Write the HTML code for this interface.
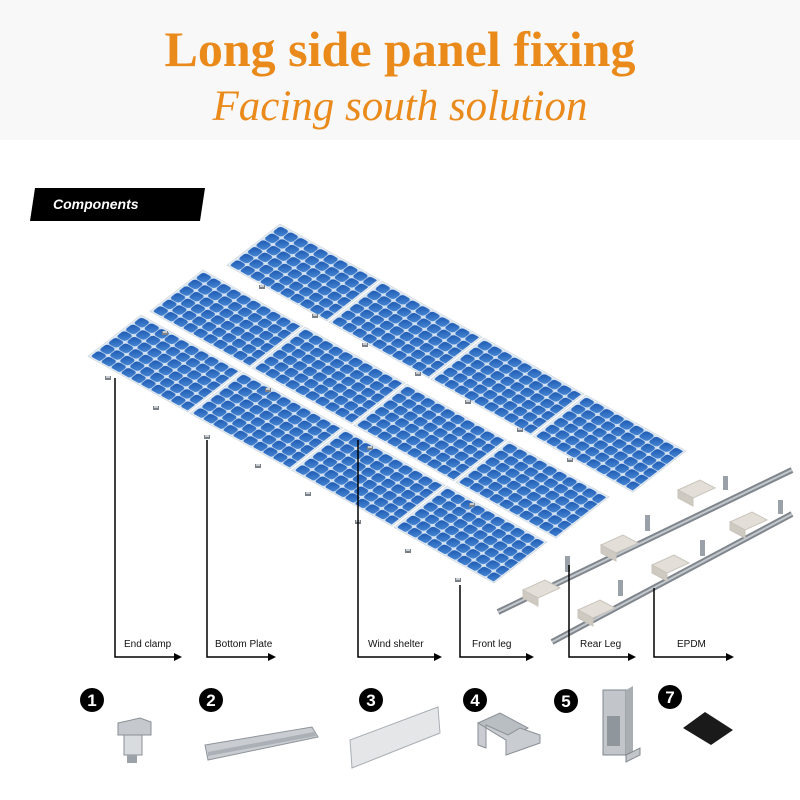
<!DOCTYPE html>
<html><head><meta charset="utf-8"><style>
html,body{margin:0;padding:0;background:#fff;}
svg{display:block}
</style></head><body>
<svg width="800" height="800" viewBox="0 0 800 800" xmlns="http://www.w3.org/2000/svg">
<defs>
<linearGradient id="cg" x1="0" y1="0" x2="1" y2="1"><stop offset="0" stop-color="#1a56b0"/><stop offset="1" stop-color="#4a8ad6"/></linearGradient>
<pattern id="cp" x="1.3" y="1.3" width="9.75" height="9.55" patternUnits="userSpaceOnUse">
<rect x="0.3" y="0.3" width="9.1" height="8.9" rx="2.8" fill="url(#cg)"/>
</pattern>
<g id="panel">
<rect x="0" y="0" width="98" height="59" fill="#e8eef5" stroke="#c9d3de" stroke-width="0.6"/>
<rect x="1.3" y="1.3" width="95.4" height="56.4" fill="#d3e2f2"/>
<rect x="1.3" y="1.3" width="95.4" height="56.4" fill="url(#cp)"/>
</g>
<g id="clip"><rect x="-3" y="-2" width="6" height="4" fill="#7a8087"/><rect x="-2" y="-2" width="4" height="2" fill="#c9ccd0"/></g>
</defs>

<rect x="0" y="0" width="800" height="140" fill="#f8f8f8"/>
<text x="400" y="66" text-anchor="middle" font-family="Liberation Serif, serif" font-weight="bold" font-size="50" fill="#ea8a1b">Long side panel fixing</text>
<text x="400" y="120" text-anchor="middle" font-family="Liberation Serif, serif" font-style="italic" font-size="43" fill="#ea8a1b">Facing south solution</text>

<polygon points="35,188 205,188 200,221 30,221" fill="#000"/>
<text x="53" y="209" font-family="Liberation Sans, sans-serif" font-weight="bold" font-style="italic" font-size="14" fill="#fff">Components</text>

<g>
<use href="#panel" transform="matrix(1.02,0.57,-0.9,0.7,280,224)"/>
<use href="#panel" transform="matrix(1.02,0.57,-0.9,0.7,382,281)"/>
<use href="#panel" transform="matrix(1.02,0.57,-0.9,0.7,484,338)"/>
<use href="#panel" transform="matrix(1.02,0.57,-0.9,0.7,586,395)"/>
<use href="#panel" transform="matrix(1.02,0.57,-0.9,0.7,203,270)"/>
<use href="#panel" transform="matrix(1.02,0.57,-0.9,0.7,305,327)"/>
<use href="#panel" transform="matrix(1.02,0.57,-0.9,0.7,407,384)"/>
<use href="#panel" transform="matrix(1.02,0.57,-0.9,0.7,509,441)"/>
<use href="#panel" transform="matrix(1.02,0.57,-0.9,0.7,141,315)"/>
<use href="#panel" transform="matrix(1.02,0.57,-0.9,0.7,243,372)"/>
<use href="#panel" transform="matrix(1.02,0.57,-0.9,0.7,345,429)"/>
<use href="#panel" transform="matrix(1.02,0.57,-0.9,0.7,447,486)"/>
</g>
<g>
<use href="#clip" x="108" y="378"/><use href="#clip" x="156" y="408"/><use href="#clip" x="207" y="437"/><use href="#clip" x="258" y="466"/><use href="#clip" x="308" y="494"/><use href="#clip" x="358" y="522"/><use href="#clip" x="408" y="551"/><use href="#clip" x="458" y="580"/>
<use href="#clip" x="165" y="333"/><use href="#clip" x="268" y="390"/><use href="#clip" x="370" y="448"/><use href="#clip" x="472" y="505"/>
<use href="#clip" x="262" y="287"/><use href="#clip" x="315" y="316"/><use href="#clip" x="365" y="345"/><use href="#clip" x="418" y="374"/><use href="#clip" x="468" y="402"/><use href="#clip" x="520" y="430"/><use href="#clip" x="570" y="460"/>
</g>

<g>
<line x1="498" y1="612" x2="792" y2="470" stroke="#80868d" stroke-width="6"/>
<line x1="498" y1="612" x2="792" y2="470" stroke="#c3c8cd" stroke-width="2"/>
<line x1="552" y1="642" x2="792" y2="514" stroke="#80868d" stroke-width="6"/>
<line x1="552" y1="642" x2="792" y2="514" stroke="#c3c8cd" stroke-width="2"/>
<g fill="#e3dfd8" stroke="#c9c4bb" stroke-width="1">
<polygon points="523,590 545,580 560,588 538,598"/>
<polygon points="523,590 538,598 538,606 523,598" fill="#cfcac1"/>
<polygon points="601,545 623,535 638,543 616,553"/><polygon points="601,545 616,553 616,561 601,553" fill="#cfcac1"/>
<polygon points="678,490 700,480 715,488 693,498"/><polygon points="678,490 693,498 693,506 678,498" fill="#cfcac1"/>
<polygon points="578,610 600,600 615,608 593,618"/><polygon points="578,610 593,618 593,626 578,618" fill="#cfcac1"/>
<polygon points="652,565 674,555 689,563 667,573"/><polygon points="652,565 667,573 667,581 652,573" fill="#cfcac1"/>
<polygon points="730,522 752,512 767,520 745,530"/><polygon points="730,522 745,530 745,538 730,530" fill="#cfcac1"/>
</g>
<g fill="#9aa1a8">
<rect x="565" y="556" width="5" height="16"/><rect x="645" y="515" width="5" height="16"/><rect x="723" y="476" width="5" height="14"/>
<rect x="618" y="580" width="5" height="16"/><rect x="700" y="540" width="5" height="16"/><rect x="778" y="500" width="5" height="14"/>
</g>
</g>

<g stroke="#000" stroke-width="1.5" fill="none">
<polyline points="115,378 115,657 176,657"/>
<polyline points="207,440 207,657 270,657"/>
<polyline points="358,440 358,657 436,657"/>
<polyline points="460,585 460,657 528,657"/>
<polyline points="569,565 569,657 630,657"/>
<polyline points="654,588 654,657 728,657"/>
</g>
<g fill="#000">
<polygon points="182,657 174,653 174,661"/>
<polygon points="276,657 268,653 268,661"/>
<polygon points="442,657 434,653 434,661"/>
<polygon points="534,657 526,653 526,661"/>
<polygon points="636,657 628,653 628,661"/>
<polygon points="734,657 726,653 726,661"/>
</g>
<g font-family="Liberation Sans, sans-serif" font-size="10" fill="#111">
<text x="124" y="647">End clamp</text>
<text x="215" y="647">Bottom Plate</text>
<text x="368" y="647">Wind shelter</text>
<text x="472" y="647">Front leg</text>
<text x="580" y="647">Rear Leg</text>
<text x="677" y="647">EPDM</text>
</g>

<g fill="#000"><circle cx="92" cy="700" r="12"/><circle cx="211" cy="700" r="12"/><circle cx="371" cy="700" r="12"/><circle cx="475" cy="700" r="12"/><circle cx="566" cy="701" r="12"/><circle cx="670" cy="697" r="12"/></g>
<g font-family="Liberation Sans, sans-serif" font-weight="bold" font-size="17" fill="#fff" text-anchor="middle">
<text x="92" y="706">1</text><text x="211" y="706">2</text><text x="371" y="706">3</text><text x="475" y="706">4</text><text x="566" y="707">5</text><text x="670" y="703">7</text>
</g>

<g>
<polygon points="118,723 140,718 151,722 151,735 118,735" fill="#c5c9cd" stroke="#8a9096"/>
<rect x="124" y="735" width="18" height="20" fill="#d9dcdf" stroke="#8a9096"/>
<rect x="127" y="755" width="10" height="8" fill="#9ca2a8"/>
<polygon points="205,745 312,727 318,737 208,760" fill="#c9cdd1" stroke="#8e949a"/>
<polygon points="208,752 314,732 316,736 208,756" fill="#aab0b6"/>
<polygon points="350,740 438,707 440,733 352,768" fill="#e4e6e8" stroke="#a9aeb3"/>
<polygon points="478,723 500,713 528,728 506,740" fill="#b9bec3" stroke="#8a9096"/>
<polygon points="478,723 506,740 506,755 540,743 540,735 520,728 508,735 486,725 486,748 478,745" fill="#c9cdd1" stroke="#8a9096"/>
<rect x="603" y="690" width="23" height="65" fill="#c2c6ca" stroke="#7f868c"/>
<rect x="607" y="716" width="13" height="30" fill="#8f969c"/>
<polygon points="626,690 633,686 633,752 626,755" fill="#a9aeb3"/>
<polygon points="626,755 640,748 640,755 626,762" fill="#c2c6ca" stroke="#7f868c"/>
<polygon points="683,728 705,712 733,730 711,745" fill="#1a1a1a"/>
</g>
</svg>
</body></html>
